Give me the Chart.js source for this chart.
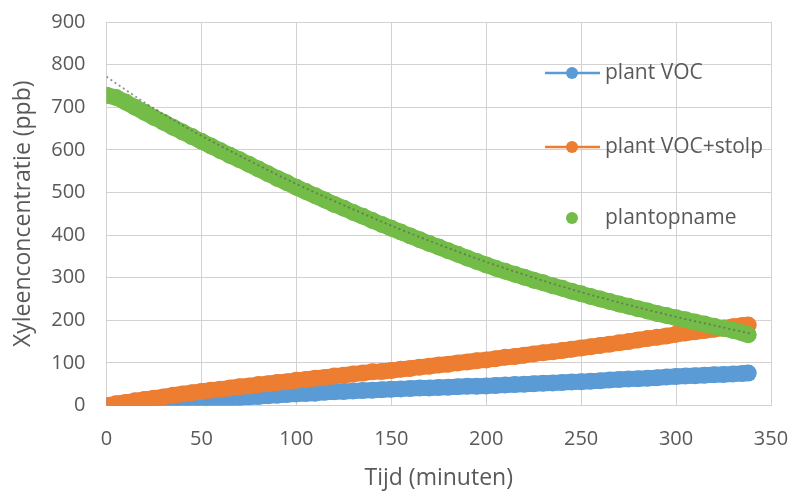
<!DOCTYPE html>
<html><head><meta charset="utf-8">
<script src="https://cdn.jsdelivr.net/npm/chart.js@4.4.1/dist/chart.umd.min.js"></script>
<style>html,body{margin:0;padding:0;background:#fff}#wrap{width:792px;height:493px}</style>
</head><body><div id="wrap"><canvas id="c" width="792" height="493"></canvas></div>
<script>
// time in minutes
const timeMin = [0,5,10,15,20,25,30,35,40,45,50,55,60,65,70,75,80,85,90,95,100,105,110,115,120,125,130,135,140,145,150,155,160,165,170,175,180,185,190,195,200,205,210,215,220,225,230,235,240,245,250,255,260,265,270,275,280,285,290,295,300,305,310,315,320,325,330,335,338];
// plant VOC (ppb)
const plantVOC = [-1,0,1,3,4,6,7,8,10,11,13,14,16,17,18,20,21,23,24,26,27,28,29,31,32,33,34,35,36,37,38,39,40,41,41,42,43,44,45,45,46,47,48,49,50,51,52,53,54,55,56,57,58,60,61,62,63,64,65,67,68,69,70,71,72,73,74,75,76];
// plant VOC+stolp (ppb)
const plantVOCStolp = [0,4,7,11,14,17,20,24,27,30,33,36,38,41,44,46,49,51,54,56,59,61,64,66,69,71,74,76,79,80,82,85,87,90,92,95,97,100,102,105,107,110,113,115,118,121,124,126,129,132,135,138,141,144,147,150,154,157,160,163,167,170,173,176,179,182,185,188,189];
// plantopname (ppb)
const plantopname = [728,723,712,700,688,676,665,653,642,631,620,609,598,587,577,566,555,544,533,523,512,502,492,482,472,463,453,444,434,425,416,407,398,389,380,372,363,355,346,338,330,322,315,308,301,294,288,281,275,268,262,256,250,244,238,233,227,222,216,211,206,201,196,191,186,181,176,170,166];
// trendline of plantopname
const trendTime = [0,5,10,15,20,30,40,50,75,100,125,150,175,200,225,250,275,300,325,340];
const trendValues = [772,756,741,726,711,684,658,633,575,520,470,422,378,337,300,266,236,208,183,168];

const seriesNames = ['plant VOC','plant VOC+stolp','plantopname'];
const seriesColors = ['#5B9BD5','#ED7D31','#74BC48'];
const xTitle = 'Tijd (minuten)';
const yTitle = 'Xyleenconcentratie (ppb)';

const toPts = arr => timeMin.map((t,i)=>({x:t,y:arr[i]}));
const textColor = '#595959';
const gridColor = '#d6d1d1';

const legendPlugin = {
  id: 'insideLegend',
  afterDatasetsDraw(chart) {
    const ctx = chart.ctx;
    const entries = [
      {y:73, line:true},
      {y:147, line:true},
      {y:218, line:false}
    ];
    ctx.save();
    ctx.font = '21px "Open Sans"';
    ctx.textBaseline = 'middle';
    ctx.textAlign = 'left';
    entries.forEach((e,i)=>{
      const col = seriesColors[i];
      if (e.line) {
        ctx.strokeStyle = col; ctx.lineWidth = 2.5;
        ctx.beginPath(); ctx.moveTo(545,e.y); ctx.lineTo(600,e.y); ctx.stroke();
      }
      ctx.fillStyle = col;
      ctx.beginPath(); ctx.arc(572,e.y,6,0,Math.PI*2); ctx.fill();
      ctx.fillStyle = textColor;
      ctx.fillText(seriesNames[i], 605, e.y);
    });
    ctx.restore();
  }
};

const bgPlugin = {
  id:'bg',
  beforeDraw(chart){const c=chart.ctx;c.save();c.fillStyle='#fff';c.fillRect(0,0,chart.width,chart.height);c.restore();}
};

const bandStyle = (col, ord) => ({
  showLine: true, borderColor: col, backgroundColor: col, borderWidth: 16, borderCapStyle: 'round', borderJoinStyle: 'round',
  pointRadius: 8.5, pointBorderWidth: 0, pointBackgroundColor: col, order: ord
});

new Chart(document.getElementById('c'), {
  type: 'scatter',
  data: {
    datasets: [
      Object.assign({label: seriesNames[0], data: toPts(plantVOC)}, bandStyle(seriesColors[0], 3)),
      Object.assign({label: seriesNames[1], data: toPts(plantVOCStolp)}, bandStyle(seriesColors[1], 2)),
      Object.assign({label: seriesNames[2], data: toPts(plantopname)}, bandStyle(seriesColors[2], 1)),
      {label: 'trend', data: trendTime.map((t,i)=>({x:t,y:trendValues[i]})), showLine: true, borderColor: 'rgba(95,95,95,0.7)',
       borderWidth: 1.8, borderDash: [2,3], pointRadius: 0, cubicInterpolationMode: 'monotone', order: 0}
    ]
  },
  options: {
    responsive: false,
    animation: false,
    layout: {padding: {left: 0, right: 21, top: 22, bottom: 0}},
    plugins: {legend: {display: false}, tooltip: {enabled: false}},
    scales: {
      x: {
        type: 'linear', min: 0, max: 350,
        ticks: {stepSize: 50, color: textColor, font: {family: 'Open Sans', size: 20}, padding: 0, maxRotation: 0},
        grid: {color: gridColor, lineWidth: 1, drawTicks: true, tickLength: 22, tickColor: 'rgba(0,0,0,0)'},
        border: {color: gridColor},
        title: {display: true, text: xTitle, color: textColor, font: {family: 'Open Sans', size: 23}, padding: {top: 0, bottom: 1}},
        afterFit(s){ s.height = 87.5; }
      },
      y: {
        min: 0, max: 900,
        ticks: {stepSize: 100, color: textColor, font: {family: 'Open Sans', size: 20}, padding: 0},
        grid: {color: gridColor, lineWidth: 1, drawTicks: true, tickLength: 21, tickColor: 'rgba(0,0,0,0)'},
        border: {color: gridColor},
        title: {display: true, text: yTitle, color: textColor, font: {family: 'Open Sans', size: 23}, padding: {top: 10, bottom: 0}},
        afterFit(s){ s.width = 106.5; }
      }
    }
  },
  plugins: [bgPlugin, legendPlugin]
});
</script></body></html>
